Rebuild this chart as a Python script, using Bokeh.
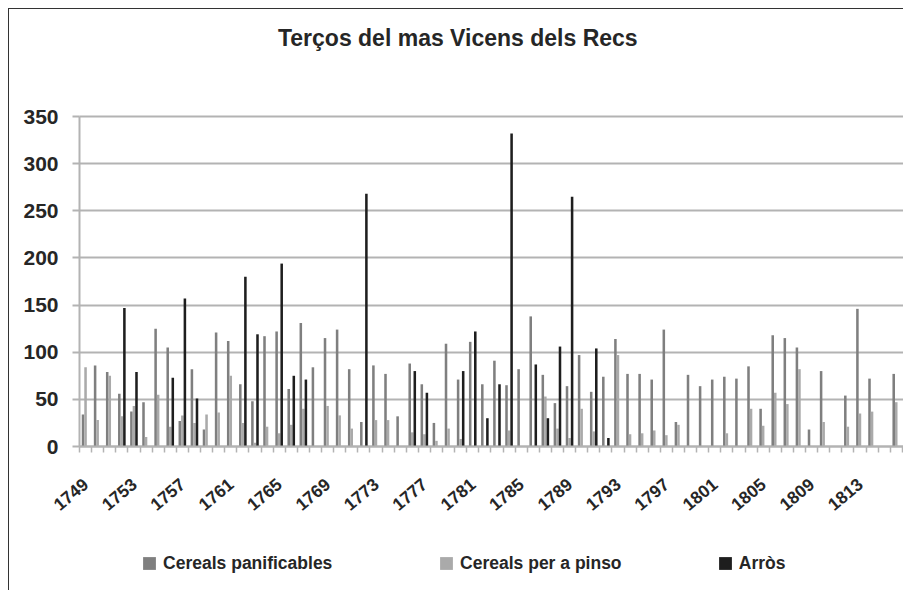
import math
from bokeh.plotting import figure
from bokeh.models import ColumnDataSource, FixedTicker, Range1d, Legend, LegendItem, Label
from bokeh.transform import dodge
from bokeh.embed import file_html
from bokeh.resources import INLINE

years = list(range(1749, 1817))
panificables = [34, 86, 79, 56, 37, 47, 125, 105, 27, 82,
                18, 121, 112, 66, 48, 117, 122, 61, 131, 84,
                115, 124, 82, 26, 86, 77, 32, 88, 66, 25,
                109, 71, 111, 66, 91, 65, 82, 138, 76, 46,
                64, 97, 58, 74, 114, 77, 77, 71, 124, 26,
                76, 64, 71, 74, 72, 85, 40, 118, 115, 105,
                18, 80, 0, 54, 146, 72, 0, 77]
pinso = [84, 28, 75, 32, 43, 10, 55, 21, 33, 25,
         34, 36, 75, 25, 4, 21, 14, 23, 40, 0,
         43, 33, 19, 0, 28, 28, 0, 15, 13, 6,
         19, 8, 0, 0, 0, 17, 0, 0, 53, 19,
         9, 40, 16, 0, 97, 13, 14, 17, 12, 23,
         0, 0, 0, 14, 0, 40, 22, 57, 45, 82,
         0, 26, 0, 21, 35, 37, 0, 47]
arros = [0, 0, 0, 147, 79, 0, 0, 73, 157, 51,
         0, 0, 0, 180, 119, 0, 194, 75, 71, 0,
         0, 0, 0, 268, 0, 0, 0, 80, 57, 0,
         0, 80, 122, 30, 66, 332, 0, 87, 30, 106,
         265, 0, 104, 9, 0, 0, 0, 0, 0, 0,
         0, 0, 0, 0, 0, 0, 0, 0, 0, 0,
         0, 0, 0, 0, 0, 0, 0, 0]
tick_years = list(range(1749, 1814, 4))
y_ticks = [0, 50, 100, 150, 200, 250, 300, 350]
series_names = ["Cereals panificables", "Cereals per a pinso", "Arròs"]
colors = ["#7f7f7f", "#aaaaaa", "#1e1e1e"]
title_text = "Terços del mas Vicens dels Recs"

n = len(years)
pos = [i + 0.5 for i in range(n)]
src = ColumnDataSource(dict(pos=pos, pan=panificables, pin=pinso, arr=arros))

FONT = "Liberation Sans"
TXT = "#262626"
GRID = "#b3b3b3"

# canvas 895x582 at page (9,9); plot area at page x 79..904, y 116..446
W, H = 895, 582
CAT = 12.1                      # px per category
PXU = 330.0 / 350.0             # px per value unit
x0 = -(79 - 9) / CAT
x1 = (9 + W - 79) / CAT
y1 = (446 - 9) / PXU
y0 = -(9 + H - 446) / PXU

p = figure(width=W, height=H, output_backend="svg", toolbar_location=None,
           x_range=Range1d(x0, x1), y_range=Range1d(y0, y1),
           min_border_left=0, min_border_right=0, min_border_top=0,
           min_border_bottom=0, outline_line_color=None, title=None)
p.styles = {"margin-left": "8px", "margin-top": "8px",
            "border-left": "1px solid #333333", "border-top": "1px solid #333333"}

bw = 0.21
r1 = p.vbar(x=dodge("pos", -bw, range=p.x_range), top="pan", width=bw, source=src,
            fill_color=colors[0], line_color=None)
r2 = p.vbar(x=dodge("pos", 0, range=p.x_range), top="pin", width=bw, source=src,
            fill_color=colors[1], line_color=None)
r3 = p.vbar(x=dodge("pos", bw, range=p.x_range), top="arr", width=bw, source=src,
            fill_color=colors[2], line_color=None)

# x axis (fixed at value 0)
xa = p.xaxis[0]
xa.fixed_location = 0
xa.bounds = (0, x1)
xa.ticker = FixedTicker(ticks=[years.index(y) + 0.5 for y in tick_years],
                        minor_ticks=list(range(0, n + 1)))
xa.major_label_overrides = {years.index(y) + 0.5: str(y) for y in tick_years}
xa.major_tick_out = 0
xa.major_tick_in = 0
xa.minor_tick_out = 6
xa.minor_tick_in = 0
xa.minor_tick_line_color = GRID
xa.minor_tick_line_width = 1.5
xa.axis_line_color = GRID
xa.axis_line_width = 2
xa.major_label_orientation = math.radians(40)
xa.major_label_standoff = 29
xa.major_label_text_font = FONT
xa.major_label_text_font_style = "bold"
xa.major_label_text_font_size = "17.5px"
xa.major_label_text_color = TXT
p.xgrid.grid_line_color = None

# y axis (fixed at first category edge)
ya = p.yaxis[0]
ya.fixed_location = 0
ya.bounds = (0, 350)
ya.ticker = FixedTicker(ticks=y_ticks)
ya.major_tick_out = 7
ya.major_tick_in = 0
ya.minor_tick_line_color = None
ya.major_tick_line_color = GRID
ya.major_tick_line_width = 2
ya.axis_line_color = GRID
ya.axis_line_width = 2
ya.major_label_standoff = 14
ya.major_label_text_font = FONT
ya.major_label_text_font_style = "bold"
ya.major_label_text_font_size = "21px"
ya.major_label_text_color = TXT
p.ygrid.grid_line_color = GRID
p.ygrid.grid_line_width = 2
p.ygrid.cross_bounds = (0, x1)

# title
p.add_layout(Label(x=(457.3 - 79) / CAT, y=(446 - 37) / PXU, text=title_text,
                   text_font=FONT, text_font_style="bold", text_font_size="23px",
                   text_color=TXT, text_align="center", text_baseline="alphabetic"))

# legends (one per series, placed like the reference)
for r, name, lx in zip([r1, r2, r3], series_names, [141.1, 438.1, 716.8]):
    lg = Legend(items=[LegendItem(label=name, renderers=[r])],
                location=(lx - 9, (9 + H) - 573.5), orientation="horizontal",
                glyph_width=16, glyph_height=16, label_standoff=6,
                padding=0, margin=0, spacing=0,
                border_line_color=None, background_fill_alpha=0,
                label_text_font=FONT, label_text_font_style="bold",
                label_text_font_size="17.5px", label_text_color=TXT)
    p.add_layout(lg, "center")

open("out.html", "w").write(file_html(p, INLINE))
